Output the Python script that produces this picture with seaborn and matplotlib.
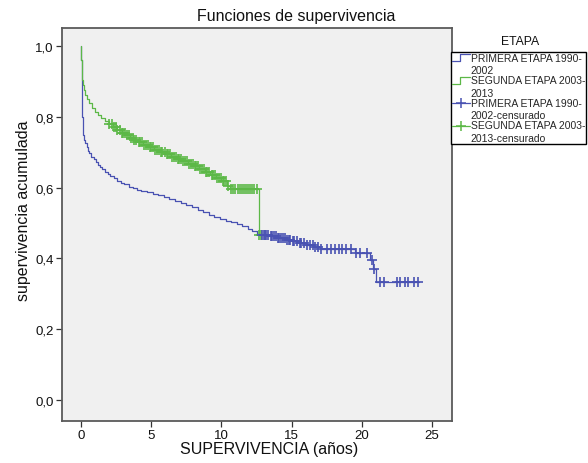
import numpy as np
import pandas as pd
import matplotlib
matplotlib.use("Agg")
import matplotlib.pyplot as plt
import seaborn as sns
from matplotlib.lines import Line2D
from matplotlib.legend_handler import HandlerBase

# ---------------- data ----------------
p1_time = [0, 0.02, 0.04, 0.06, 0.08, 0.10, 0.13, 0.17, 0.22, 0.30, 0.40, 0.50, 0.60,
           0.75, 0.90, 1.05, 1.20, 1.35, 1.50, 1.70, 1.90, 2.10, 2.35, 2.60, 2.85,
           3.10, 3.40, 3.70, 4.00, 4.30, 4.70, 5.10, 5.50, 5.90, 6.30, 6.70, 7.10,
           7.50, 7.90, 8.30, 8.70, 9.10, 9.50, 9.90, 10.30, 10.70, 11.10, 11.50,
           11.90, 12.20, 12.50, 12.80, 13.40, 14.00, 14.60, 15.00, 15.50, 16.00,
           16.60, 17.00, 19.50, 20.60, 20.80, 21.00, 24.10]
p1_surv = [1.000, 0.960, 0.920, 0.880, 0.840, 0.800, 0.770, 0.750, 0.735, 0.725, 0.715,
           0.705, 0.697, 0.688, 0.680, 0.672, 0.665, 0.658, 0.652, 0.645, 0.638,
           0.632, 0.626, 0.620, 0.614, 0.609, 0.603, 0.598, 0.594, 0.590, 0.587,
           0.583, 0.579, 0.573, 0.567, 0.562, 0.557, 0.551, 0.545, 0.538, 0.531,
           0.524, 0.518, 0.512, 0.507, 0.502, 0.497, 0.491, 0.484, 0.477, 0.470,
           0.466, 0.463, 0.458, 0.453, 0.449, 0.444, 0.438, 0.432, 0.427, 0.415,
           0.395, 0.370, 0.335, 0.335]
p1_cens = [12.9, 13.0, 13.1, 13.2, 13.35, 13.5, 13.6, 13.75, 13.9, 14.0, 14.1, 14.25,
           14.4, 14.5, 14.65, 14.8, 14.9, 15.1, 15.2, 15.4, 15.6, 15.7, 15.9, 16.1,
           16.3, 16.5, 16.7, 16.9, 17.1, 17.5, 17.8, 18.1, 18.4, 18.6, 18.9, 19.2,
           19.6, 19.9, 20.4, 20.7, 20.9, 21.3, 21.6, 22.5, 22.7, 23.1, 23.3, 23.7, 24.0]

s2_time = [0, 0.02, 0.05, 0.08, 0.12, 0.20, 0.30, 0.45, 0.60, 0.80, 1.00, 1.20, 1.45,
           1.70, 2.00, 2.30, 2.60, 2.90, 3.20, 3.50, 3.80, 4.10, 4.40, 4.80, 5.20,
           5.60, 6.00, 6.40, 6.80, 7.20, 7.60, 8.00, 8.40, 8.80, 9.20, 9.60, 10.00,
           10.40, 10.60, 12.65, 12.85]
s2_surv = [1.000, 0.960, 0.930, 0.905, 0.890, 0.875, 0.862, 0.850, 0.838, 0.826, 0.815,
           0.806, 0.797, 0.788, 0.779, 0.771, 0.763, 0.755, 0.748, 0.741, 0.735,
           0.728, 0.721, 0.714, 0.707, 0.701, 0.694, 0.688, 0.681, 0.675, 0.668,
           0.660, 0.652, 0.645, 0.637, 0.628, 0.618, 0.606, 0.597, 0.466, 0.466]
s2_cens = [2.0, 2.2, 2.35, 2.5, 2.6, 2.75, 2.9, 3.0, 3.15, 3.3, 3.4, 3.55, 3.7, 3.8,
           3.95, 4.1, 4.2, 4.35, 4.5, 4.6, 4.75, 4.9, 5.0, 5.15, 5.3, 5.4, 5.55, 5.7,
           5.8, 5.95, 6.1, 6.2, 6.35, 6.5, 6.6, 6.75, 6.9, 7.0, 7.15, 7.3, 7.4, 7.55,
           7.7, 7.8, 7.95, 8.1, 8.2, 8.35, 8.5, 8.6, 8.75, 8.9, 9.0, 9.15, 9.3, 9.4,
           9.55, 9.7, 9.8, 9.95, 10.1, 10.2, 10.35, 10.5, 10.7, 10.85, 11.0, 11.15,
           11.3, 11.45, 11.6, 11.75, 11.9, 12.05, 12.2, 12.35, 12.5, 12.7, 12.8]

group_labels = ["PRIMERA ETAPA 1990-\n2002", "SEGUNDA ETAPA 2003-\n2013",
                "PRIMERA ETAPA 1990-\n2002-censurado", "SEGUNDA ETAPA 2003-\n2013-censurado"]
legend_title = "ETAPA"
chart_title = "Funciones de supervivencia"
x_label = "SUPERVIVENCIA (años)"
y_label = "supervivencia acumulada"
x_ticks = [0, 5, 10, 15, 20, 25]
y_ticks = [0.0, 0.2, 0.4, 0.6, 0.8, 1.0]
y_tick_labels = ["0,0", "0,2", "0,4", "0,6", "0,8", "1,0"]

BLUE = "#4952b2"
GREEN = "#5cb847"

# ---------------- style ----------------
sns.set_theme(style="white")
plt.rcParams["font.family"] = ["Liberation Sans", "DejaVu Sans"]
plt.rcParams["axes.facecolor"] = "#f0f0f0"

fig = plt.figure(figsize=(5.88, 4.64), dpi=100)
ax = fig.add_axes([62 / 588, 1 - 422 / 464, 390 / 588, 393 / 464])


def surv_at(times, survs, t):
    idx = np.searchsorted(np.asarray(times), t, side="right") - 1
    return np.asarray(survs)[idx]


df1 = pd.DataFrame({"t": p1_time, "s": p1_surv})
df2 = pd.DataFrame({"t": s2_time, "s": s2_surv})
c1 = pd.DataFrame({"t": p1_cens, "s": surv_at(p1_time, p1_surv, p1_cens)})
c2 = pd.DataFrame({"t": s2_cens, "s": surv_at(s2_time, s2_surv, s2_cens)})

sns.lineplot(data=df1, x="t", y="s", ax=ax, color=BLUE, lw=0.9,
             drawstyle="steps-post", estimator=None, sort=False, zorder=2)
sns.lineplot(data=df2, x="t", y="s", ax=ax, color=GREEN, lw=0.9,
             drawstyle="steps-post", estimator=None, sort=False, zorder=3)
sns.scatterplot(data=c2, x="t", y="s", ax=ax, marker="+", color=GREEN, s=45,
                linewidth=1.2, zorder=4)
sns.scatterplot(data=c1, x="t", y="s", ax=ax, marker="+", color=BLUE, s=45,
                linewidth=1.2, zorder=5)

ax.set_xlim(-1.35, 26.42)
ax.set_ylim(-0.059, 1.051)
ax.set_xticks(x_ticks)
ax.set_xticklabels([str(v) for v in x_ticks])
ax.set_yticks(y_ticks)
ax.set_yticklabels(y_tick_labels)
ax.tick_params(axis="both", which="major", direction="out", length=4.5, width=0.9,
               color="#333333", labelsize=9.5, pad=1.5, labelcolor="#111111",
               bottom=True, left=True)
for sp in ax.spines.values():
    sp.set_color("#5a5a5a")
    sp.set_linewidth(1.3)

ax.set_xlabel(x_label, fontsize=11.5, color="#111111")
ax.set_ylabel(y_label, fontsize=11.5, color="#111111")
ax.xaxis.label.set_va("top")
ax.xaxis.set_label_coords((269 - 62) / 390, -(442 - 422) / 393)
ax.yaxis.set_label_coords(-(62 - 31) / 390, 0.537)
fig.text(296 / 588, 1 - 16 / 464, chart_title, ha="center", va="center",
         fontsize=11.5, color="#111111")


# ---------------- legend ----------------
class StepHandler(HandlerBase):
    def create_artists(self, legend, orig_handle, xdescent, ydescent, width,
                       height, fontsize, trans):
        c = orig_handle.get_color()
        y0 = height / 2 - ydescent + 4.5
        x0 = -xdescent
        if orig_handle.get_marker() in ("+",):
            ln = Line2D([x0, x0 + width], [y0, y0], color=c, lw=0.9, transform=trans)
            mk = Line2D([x0 + width / 2], [y0], color=c, marker="+", ms=7, mew=1.1,
                        ls="none", transform=trans)
            return [ln, mk]
        xs = [x0, x0 + width * 0.45, x0 + width * 0.45, x0 + width]
        ys = [y0 - 2.5, y0 - 2.5, y0 + 2.5, y0 + 2.5]
        return [Line2D(xs, ys, color=c, lw=0.9, transform=trans)]


handles = [Line2D([], [], color=BLUE), Line2D([], [], color=GREEN),
           Line2D([], [], color=BLUE, marker="+"), Line2D([], [], color=GREEN, marker="+")]
leg = fig.legend(handles, group_labels, loc="upper left",
                 bbox_to_anchor=(451 / 588, 1 - 52.5 / 464),
                 handler_map={Line2D: StepHandler()}, fontsize=7.5,
                 frameon=True, fancybox=False, edgecolor="black", facecolor="white",
                 framealpha=1, borderpad=0.1, labelspacing=0.0, handlelength=1.75,
                 handletextpad=0.05, borderaxespad=0)
leg.get_frame().set_linewidth(1.0)
for t in leg.get_texts():
    t.set_linespacing(1.32)
fig.text(520 / 588, 1 - 42 / 464, legend_title, ha="center", va="center",
         fontsize=8.8, color="#111111")

fig.savefig("out.png", dpi=100, facecolor="white")
